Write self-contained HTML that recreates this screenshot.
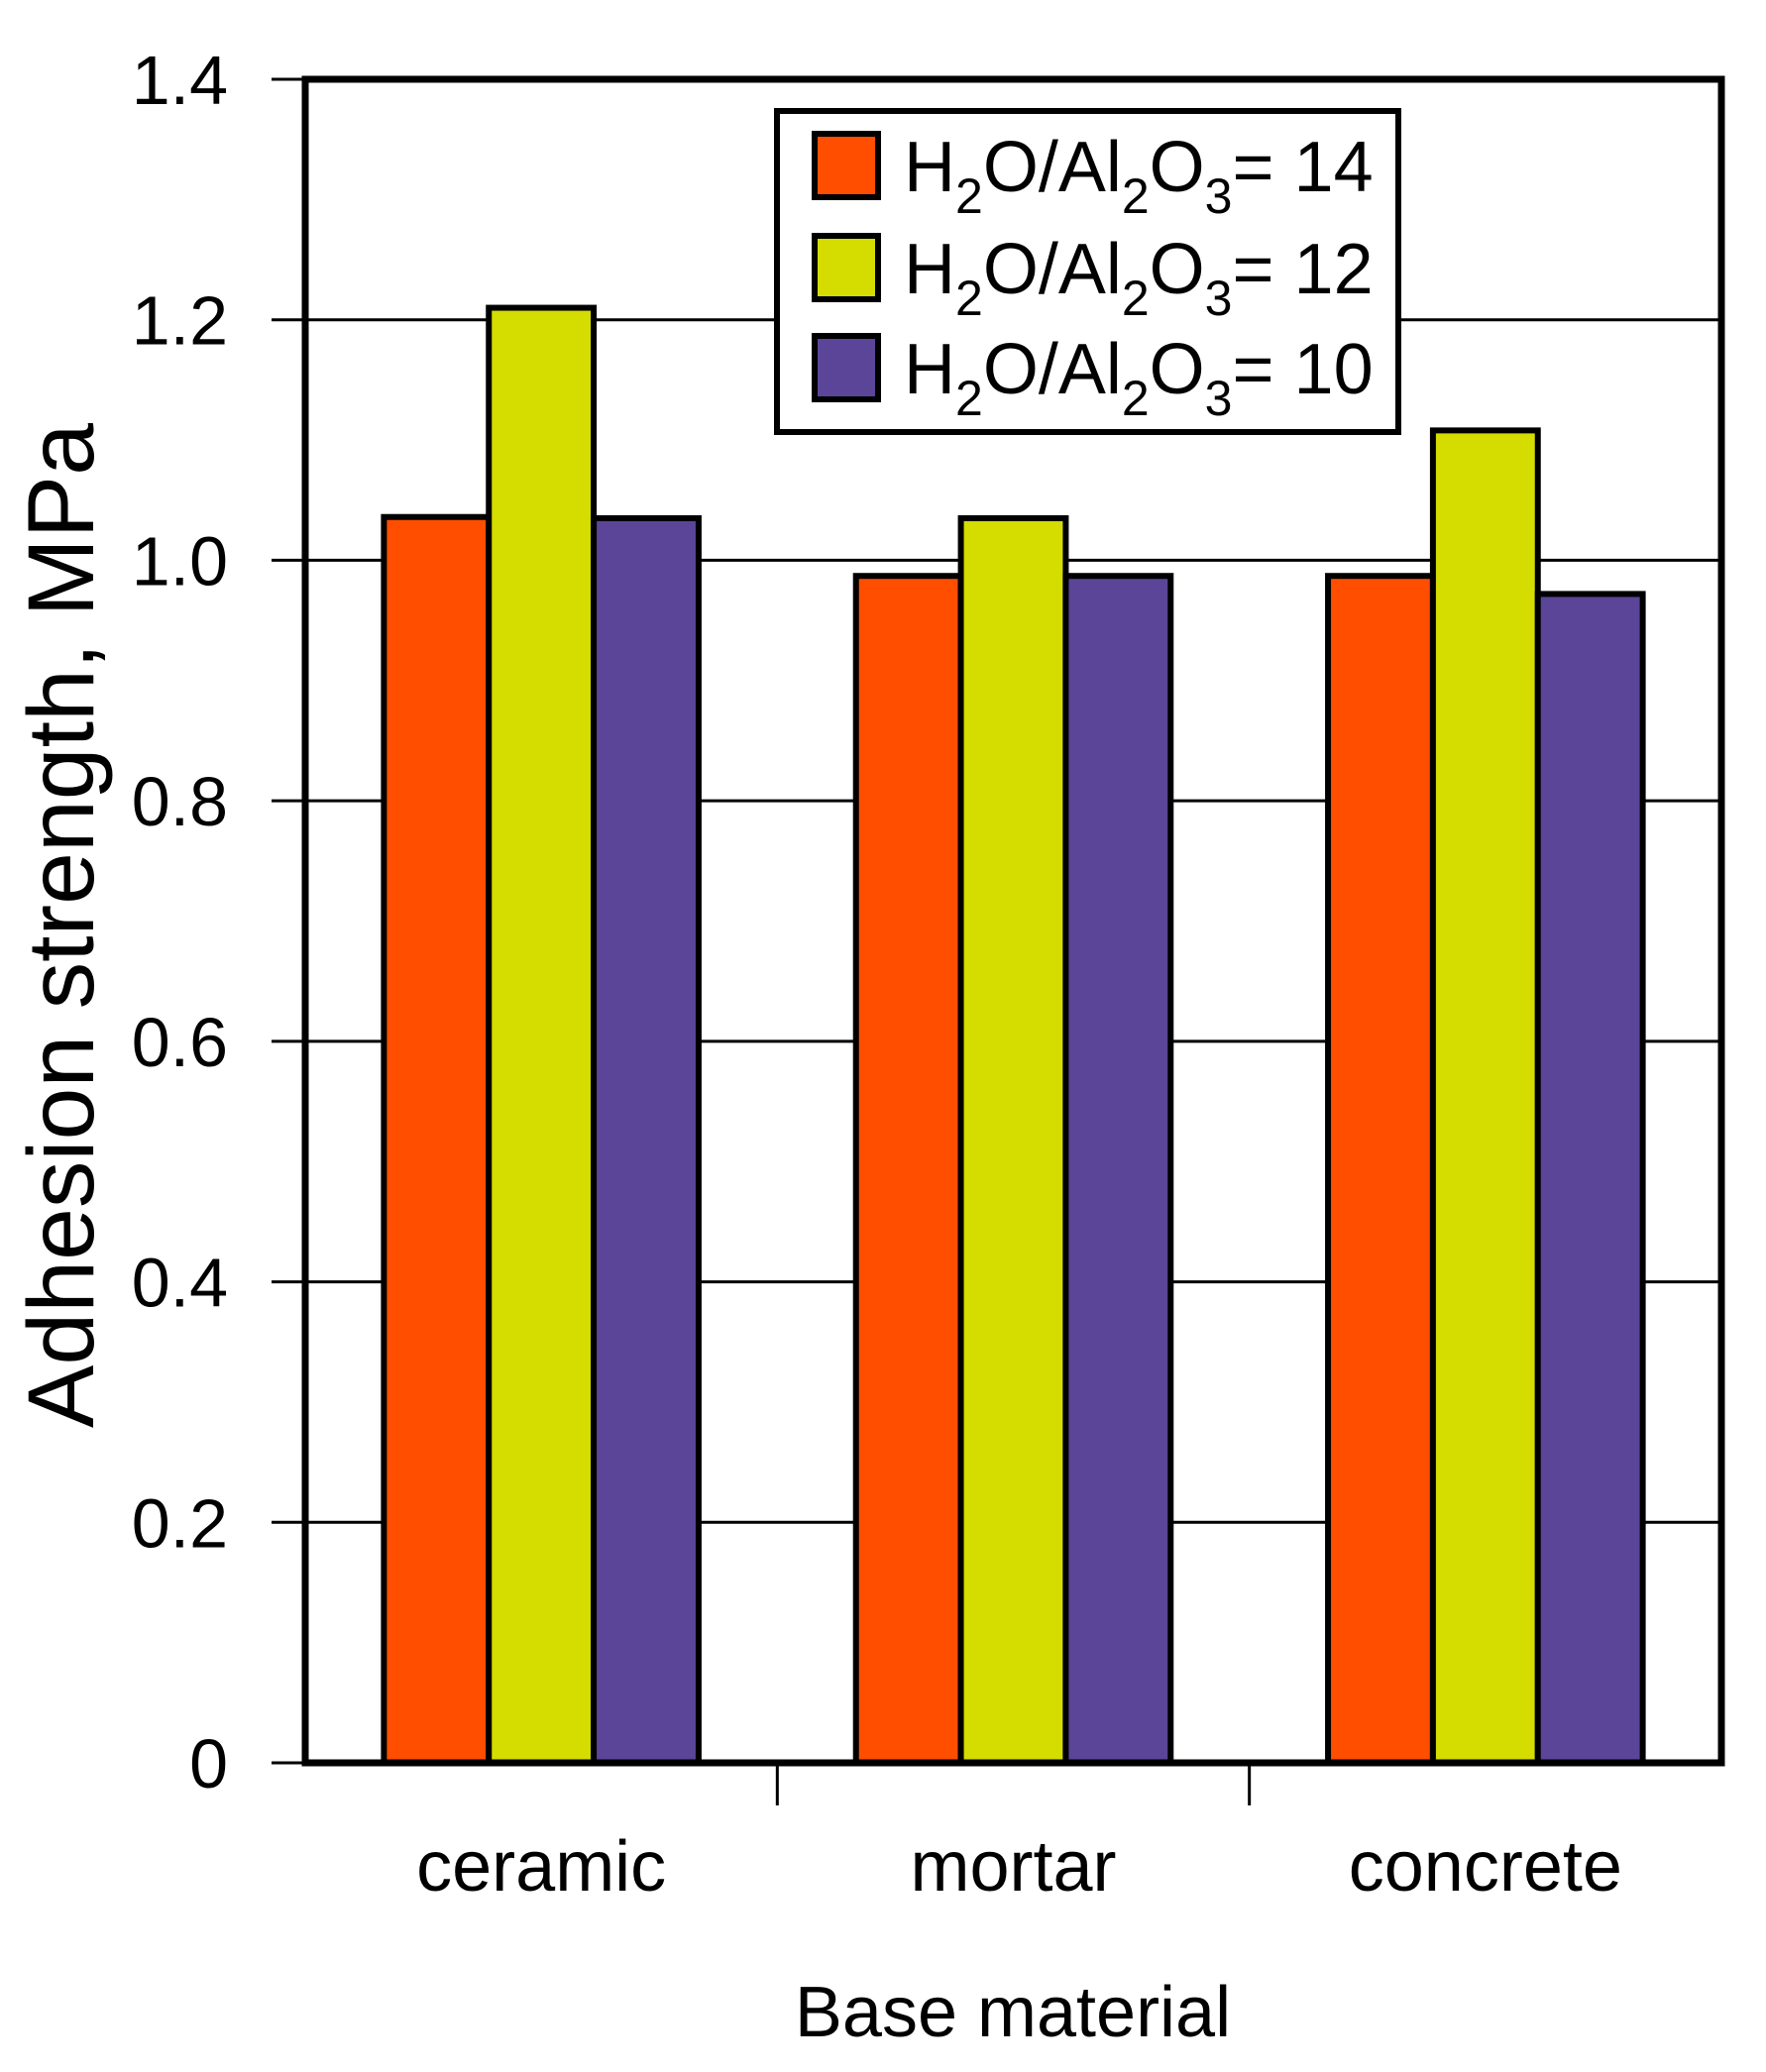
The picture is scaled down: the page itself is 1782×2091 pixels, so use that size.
<!DOCTYPE html>
<html><head><meta charset="utf-8"><style>
html,body{margin:0;padding:0;background:#fff;}
svg{display:block;font-family:"Liberation Sans",Arial,sans-serif;}
</style></head><body>
<svg id="chart" width="1782" height="2091" viewBox="0 0 1782 2091" xmlns="http://www.w3.org/2000/svg">
<rect x="0" y="0" width="1782" height="2091" fill="#fff"/>
<g id="grid"></g><g id="bars"></g><g id="axes"></g><g id="legend"></g>
</svg>
<script>
const categories = ["ceramic", "mortar", "concrete"];
const seriesNames = ["14", "12", "10"];
const seriesColors = ["#ff4e00", "#d4dc00", "#5b4598"];
const series14 = [1.036, 0.987, 0.987];
const series12 = [1.210, 1.035, 1.108];
const series10 = [1.035, 0.987, 0.972];
const yTicks = [0, 0.2, 0.4, 0.6, 0.8, 1.0, 1.2, 1.4];
const yTickLabels = ["0", "0.2", "0.4", "0.6", "0.8", "1.0", "1.2", "1.4"];

const NS = "http://www.w3.org/2000/svg";
const L = 308, R = 1737, T = 80, B = 1779, yMax = 1.4;
function y(v){ return B - (v / yMax) * (B - T); }
const band = (R - L) / categories.length;
const barW = band * 2 / 9;
function xBand(i){ return L + band * i; }
function mk(tag, attrs, parent){ const e = document.createElementNS(NS, tag); for (const k in attrs) e.setAttribute(k, attrs[k]); parent.appendChild(e); return e; }

const grid = document.getElementById("grid");
const bars = document.getElementById("bars");
const axes = document.getElementById("axes");
const legend = document.getElementById("legend");

yTicks.forEach((t, i) => {
  const gl = mk("line", {x1: 274, x2: R, y1: y(t), y2: y(t), stroke: "#000", "stroke-width": 3}, grid);
  
  
  const tl = mk("text", {x: 230, y: y(t) + 25, "text-anchor": "end", "font-size": 70, fill: "#000"}, axes);
  tl.textContent = yTickLabels[i];
  
  
});

const allSeries = [series14, series12, series10];
categories.forEach((c, ci) => {
  const x0 = xBand(ci) + band / 6;
  allSeries.forEach((s, si) => {
    const r = mk("rect", {x: x0 + si * barW, y: y(s[ci]), width: barW, height: B - y(s[ci]), fill: seriesColors[si], stroke: "#000", "stroke-width": 6}, bars);
    
    
  });
  const cl = mk("text", {x: xBand(ci) + band / 2, y: 1908, "text-anchor": "middle", "font-size": 72, fill: "#000"}, axes);
  cl.textContent = c;
  
  
  if (ci > 0) {
    const tk = mk("line", {x1: xBand(ci), x2: xBand(ci), y1: B, y2: 1822, stroke: "#000", "stroke-width": 3}, axes);
    
    
  }
});

const frame = mk("rect", {x: L, y: T, width: R - L, height: B - T, fill: "none", stroke: "#000", "stroke-width": 7}, axes);



const xt = mk("text", {x: 1022, y: 2055, "text-anchor": "middle", "font-size": 72, fill: "#000"}, axes);
xt.textContent = "Base material";



const yt = mk("text", {x: 0, y: 0, "text-anchor": "middle", "font-size": 95, fill: "#000", transform: "translate(94,934) rotate(-90)"}, axes);
yt.textContent = "Adhesion strength, MPa";



const lb = mk("rect", {x: 784, y: 112, width: 627, height: 324, fill: "#fff", stroke: "#000", "stroke-width": 6}, legend);


const rowY = [167, 270, 371];
seriesNames.forEach((n, i) => {
  const sw = mk("rect", {x: 822, y: rowY[i] - 32, width: 64, height: 64, fill: seriesColors[i], stroke: "#000", "stroke-width": 6}, legend);
  
  
  const t = mk("text", {x: 912, y: rowY[i] + 26, "font-size": 72, fill: "#000"}, legend);
  
  
  t.innerHTML = 'H<tspan font-size="50" dy="22">2</tspan><tspan dy="-22">O/Al</tspan><tspan font-size="50" dy="22">2</tspan><tspan dy="-22">O</tspan><tspan font-size="50" dy="22">3</tspan><tspan dy="-22">= ' + n + '</tspan>';
});
</script>
</body></html>
